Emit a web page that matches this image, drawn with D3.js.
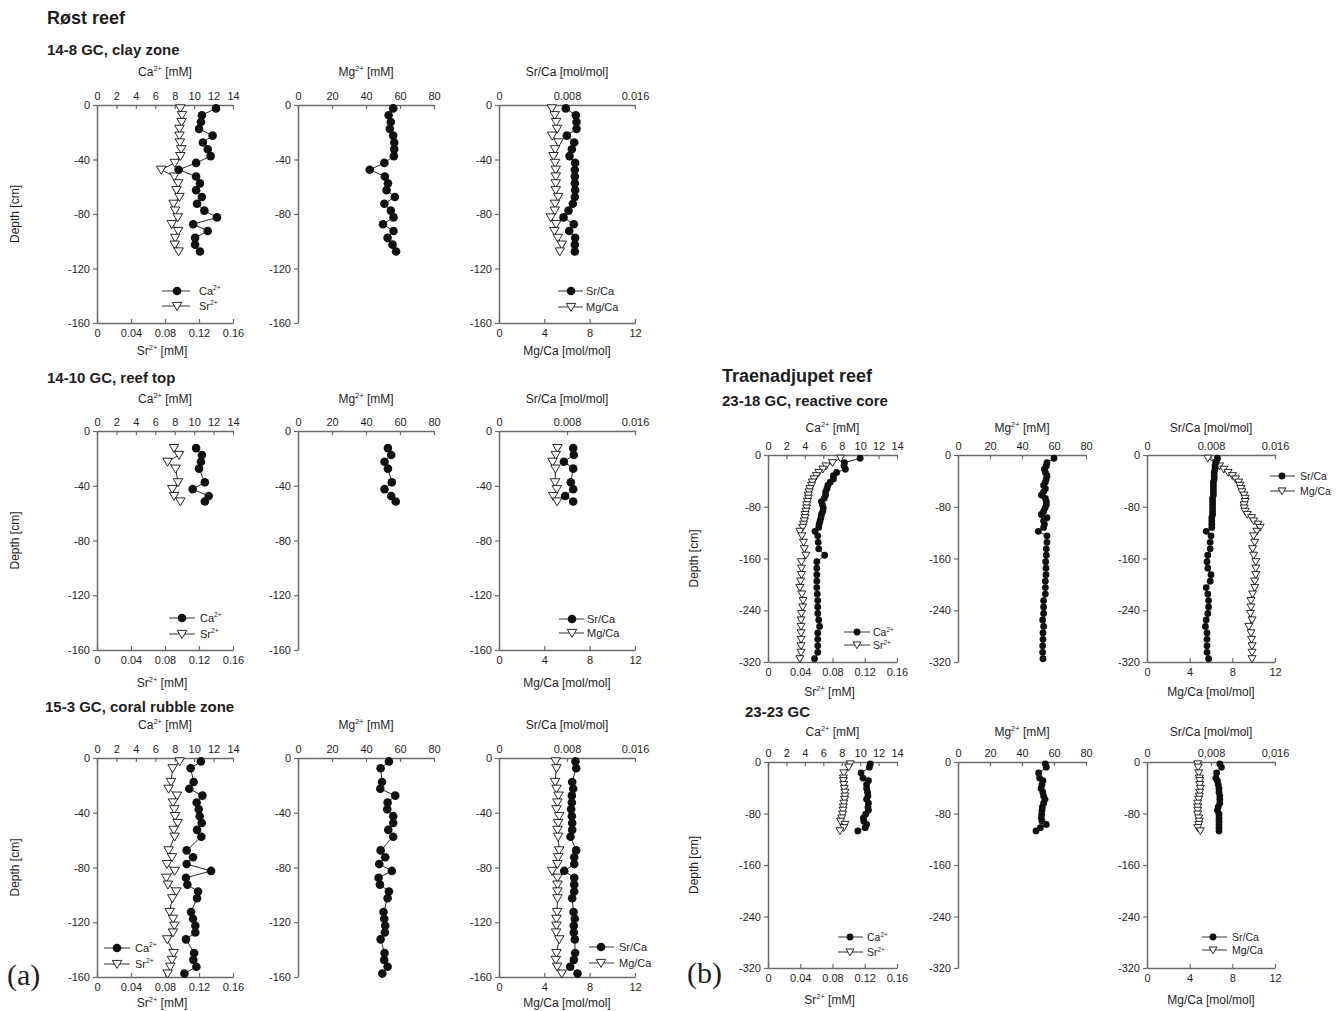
<!DOCTYPE html>
<html><head><meta charset="utf-8">
<script src="https://cdn.jsdelivr.net/npm/d3@7"></script>
<style>body{margin:0;background:#fff} svg{display:block} text{font-family:"Liberation Sans",Arial,sans-serif}</style>
</head><body><svg id="c" width="1343" height="1011"></svg>
<script>
// ---------- tick arrays ----------
const caTicks = [0,2,4,6,8,10,12,14];
const srTicks = [0,0.04,0.08,0.12,0.16];
const srLabels = ["0","0.04","0.08","0.12","0.16"];
const mgTicks = [0,20,40,60,80];
const srcaTicks = [0,0.008,0.016];
const srcaLabels = ["0","0.008","0.016"];
const srcaLabelsComma = ["0","0,008","0,016"];
const mgcaTicks = [0,4,8,12];
const depthTicksA = [0,-40,-80,-120,-160];
const depthTicksB = [0,-80,-160,-240,-320];

// ---------- 14-8 GC, clay zone ----------
const d148 = [-2.5,-7.5,-12.5,-17.5,-22.5,-27.5,-32.5,-37.5,-42.5,-47.5,-52.5,-57.5,-62.5,-67.5,-72.5,-77.5,-82.5,-87.5,-92.5,-97.5,-102.5,-107.5];
const ca148 = [12.25,10.8,10.7,10.5,11.9,10.9,11.4,11.7,10.2,8.4,10.2,10.6,10.2,10.8,10.3,11.05,12.35,9.9,11.4,10.1,10.1,10.6];
const sr148 = [0.098,0.100,0.0995,0.097,0.097,0.0975,0.099,0.098,0.0915,0.0755,0.091,0.0955,0.0935,0.097,0.090,0.092,0.095,0.088,0.0955,0.092,0.0915,0.096];
const mg148 = [56,53.3,54.6,54,56,56.6,56.6,56.4,50.8,42.2,51.1,52.9,52.1,57,50.8,54.6,56.2,50,56.2,52.7,55.6,57.7];
const srca148 = [0.00786,0.00904,0.00912,0.00912,0.00798,0.00885,0.00857,0.0083,0.00896,0.00892,0.00892,0.00892,0.00896,0.00892,0.00869,0.00818,0.00759,0.0088,0.00826,0.00896,0.00892,0.00892];
const mgca148 = [4.66,4.92,5.04,5.13,4.69,5.25,4.95,4.81,4.95,5.01,5.01,5.01,5.01,5.22,4.95,4.92,4.57,5.04,4.89,5.19,5.54,5.37];

// ---------- 14-10 GC, reef top ----------
const d1410 = [-12.5,-17.5,-22.5,-27.5,-37.5,-42.5,-47.5,-51.5];
const ca1410 = [10.2,10.8,10.7,10.5,11.1,9.85,11.5,11.1];
const sr1410 = [0.0906,0.0965,0.0831,0.0925,0.0953,0.0886,0.0906,0.098];
const mg1410 = [52.9,54.8,50.9,52.9,55.2,50.9,54.8,57.5];
const srca1410 = [0.00873,0.0088,0.00763,0.00873,0.00845,0.00873,0.00778,0.00873];
const mgca1410 = [5.16,5.01,4.72,4.98,4.95,5.10,4.78,5.13];

// ---------- 15-3 GC, coral rubble zone ----------
const d153 = [-2.5,-7.5,-17.5,-22.5,-27.5,-32.5,-37.5,-42.5,-47.5,-52.5,-57.5,-67.5,-72.5,-77.5,-82.5,-87.5,-92.5,-97.5,-102.5,-112.5,-117.5,-122.5,-127.5,-132.5,-142.5,-147.5,-152.5,-157.5];
const ca153 = [10.7,9.64,9.95,9.5,10.85,10.26,10.47,10.57,10.78,10.3,10.74,9.23,9.88,9.23,11.74,9.16,9.3,10.4,10.3,9.68,9.88,10.12,10.12,9.16,10.0,9.92,10.23,9.0];
const sr153 = [0.0973,0.089,0.0871,0.0843,0.0941,0.0894,0.091,0.0918,0.0949,0.0902,0.0914,0.0843,0.0882,0.0824,0.0914,0.0816,0.0835,0.0933,0.0886,0.0855,0.0894,0.091,0.0894,0.0827,0.0902,0.0882,0.0863,0.0831];
const mg153 = [53.5,48.6,49.4,48.4,57.2,52.7,52.5,56,56,53.1,56,48.6,51.3,47.8,55.2,47.4,48.2,53.5,52.7,50.3,50.7,51.3,51.1,48.6,50.9,50.7,52.7,49.6];
const srca153 = [0.009,0.00908,0.00861,0.00873,0.00857,0.00857,0.00849,0.00857,0.00861,0.00861,0.00841,0.00908,0.00885,0.00885,0.00767,0.00885,0.00885,0.00885,0.00861,0.00877,0.00892,0.0088,0.0088,0.00892,0.00896,0.0088,0.00837,0.00924];
const mgca153 = [5.01,5.07,4.95,5.07,5.25,5.16,5.07,5.31,5.22,5.16,5.22,5.31,5.22,5.16,4.69,5.16,5.16,5.16,5.16,5.13,5.07,5.07,5.04,5.31,5.07,5.01,5.13,5.54];

// ---------- 23-18 GC, reactive core ----------
const d2318 = [-5,-12,-17,-22,-27,-32,-37,-42,-47,-52,-57,-62,-67,-72,-77,-82,-87,-92,-97,-102,-107,-112,-118,-125,-135,-145,-155,-165,-175,-185,-195,-205,-215,-225,-235,-245,-255,-265,-275,-285,-295,-305,-315];
const ca2318 = [10.0,8.3,8.25,8.4,7.45,7.1,7.1,6.75,6.5,6.4,6.25,6.25,6.1,5.8,5.9,6.0,5.95,5.8,5.75,5.65,5.55,5.5,5.1,5.4,5.45,5.5,6.15,5.3,5.3,5.3,5.3,5.3,5.35,5.4,5.4,5.4,5.5,5.6,5.4,5.4,5.4,5.4,5.05];
const sr2318 = [0.090,0.080,0.072,0.068,0.063,0.060,0.057,0.055,0.054,0.052,0.051,0.050,0.050,0.049,0.048,0.048,0.047,0.046,0.046,0.045,0.044,0.043,0.0395,0.042,0.044,0.045,0.047,0.0415,0.0415,0.0415,0.0405,0.0395,0.042,0.0435,0.043,0.0415,0.041,0.041,0.041,0.041,0.041,0.041,0.0395];
const mg2318 = [60,55.6,55.2,54,54.6,55.6,55.2,54.6,53.5,54.6,53.5,52.1,54.6,55.2,55.2,54.4,53.5,52.1,55.6,53.5,54,53.5,50.2,55.6,55.6,55.2,55.2,54.8,55,55,54.6,54.6,54.6,53.5,53.5,53.5,52.9,53.5,53.1,53.1,52.9,52.9,53.1];
const srca2318 = [0.0088,0.0086,0.0085,0.0085,0.0084,0.0084,0.0084,0.0083,0.0083,0.0083,0.0083,0.0083,0.0082,0.0082,0.0082,0.0082,0.0082,0.0082,0.0081,0.0081,0.0081,0.0081,0.0074,0.0080,0.0079,0.0079,0.0076,0.0075,0.0076,0.0080,0.0079,0.0074,0.0076,0.0077,0.0077,0.0076,0.0074,0.0073,0.0075,0.0075,0.0075,0.0075,0.0077];
const mgca2318 = [5.7,6.5,6.8,7.2,7.6,8.0,8.3,8.6,8.7,8.8,8.9,9.1,9.2,9.2,9.1,9.1,9.2,9.4,9.8,10.0,10.4,10.6,10.3,10.0,10.1,9.9,10.0,10.2,10.2,10.2,10.1,10.1,9.9,9.75,9.75,9.7,9.85,9.55,9.75,9.8,9.85,9.85,9.85];

// ---------- 23-23 GC ----------
const d2323 = [-3,-8,-17,-25,-29,-35,-41,-47,-53,-58,-64,-70,-75,-81,-87,-92,-97,-102,-107];
const ca2323 = [11.1,11.0,10.1,10.3,10.9,10.7,10.7,10.8,10.85,10.7,10.9,10.85,10.9,10.6,10.35,10.4,10.7,10.55,9.75];
const sr2323 = [0.102,0.100,0.094,0.0935,0.0935,0.094,0.0945,0.0955,0.0955,0.095,0.094,0.0935,0.093,0.0925,0.0915,0.090,0.0955,0.094,0.0893];
const mg2323 = [54.6,55.2,50.4,51,53.1,52.5,51.9,53,53.5,54.4,53.5,52.7,52.5,52.3,52.1,52.5,55.2,51.5,48.75];
const srca2323 = [0.0091,0.0093,0.0087,0.0086,0.0088,0.0089,0.0090,0.0090,0.0091,0.0091,0.0091,0.0089,0.0088,0.0090,0.0090,0.0090,0.0090,0.0090,0.0090];
const mgca2323 = [4.75,4.8,4.85,4.9,4.94,4.94,5.0,4.94,4.9,4.84,4.75,4.75,4.75,4.75,4.84,4.9,4.85,4.75,5.0];

// ---------- drawing ----------
const svg = d3.select('#c');
const AX = '#6a6a6a', TXT = '#1e1e1e', INK = '#111';

function richText(g, x, y, parts, size, anchor) {
  const t = g.append('text').attr('x', x).attr('y', y).attr('font-size', size)
    .attr('text-anchor', anchor || 'middle').attr('fill', TXT);
  let up = false;
  parts.forEach(p => {
    const ts = t.append('tspan').text(p[0]);
    if (p[1] === 'sup') { ts.attr('font-size', size * 0.62).attr('dy', -size * 0.42); up = true; }
    else if (up) { ts.attr('dy', size * 0.42); up = false; }
  });
  return t;
}

function marker(g, type, x, y, s) {
  if (type === 'circle') {
    g.append('circle').attr('cx', x).attr('cy', y).attr('r', s.r).attr('fill', INK);
  } else {
    const w = s.tw, h = s.th;
    g.append('path').attr('d', `M${x - w/2},${y - h*0.45}L${x + w/2},${y - h*0.45}L${x},${y + h*0.55}Z`)
      .attr('fill', '#fff').attr('stroke', INK).attr('stroke-width', 0.9);
  }
}

function styleAxis(sel) {
  sel.select('.domain').attr('stroke', AX).attr('stroke-width', 1.5);
  sel.selectAll('.tick line').attr('stroke', AX).attr('stroke-width', 1.2);
  sel.selectAll('.tick text').attr('fill', TXT).attr('font-size', 11)
     .style('font-family', '"Liberation Sans",Arial,sans-serif');
}

const CA = [['Ca',''],['2+','sup'],[' [mM]','']];
const SR = [['Sr',''],['2+','sup'],[' [mM]','']];
const MG = [['Mg',''],['2+','sup'],[' [mM]','']];
const SRCA = [['Sr/Ca [mol/mol]','']];
const MGCA = [['Mg/Ca [mol/mol]','']];

function panel(o) {
  const g = svg.append('g');
  const y = d3.scaleLinear().domain([0, o.dmin]).range([o.y0, o.y1]);
  const xt = d3.scaleLinear().domain(o.topDomain).range([o.x0, o.x1]);
  const xb = o.botDomain ? d3.scaleLinear().domain(o.botDomain).range([o.x0, o.x1]) : null;

  const la = g.append('g').attr('transform', `translate(${o.x0},0)`)
    .call(d3.axisLeft(y).tickValues(o.dTicks).tickFormat(d => String(d)).tickSize(4).tickSizeOuter(0).tickPadding(3));
  styleAxis(la);
  const ta = g.append('g').attr('transform', `translate(0,${o.y0})`)
    .call(d3.axisTop(xt).tickValues(o.topTicks).tickFormat((d, i) => o.topLabels[i]).tickSize(-4).tickSizeOuter(0).tickPadding(5));
  styleAxis(ta);
  richText(g, (o.x0 + o.x1) / 2, o.y0 - o.topTitleOff, o.topTitle, 12);
  if (xb) {
    const ba = g.append('g').attr('transform', `translate(0,${o.y1})`)
      .call(d3.axisBottom(xb).tickValues(o.botTicks).tickFormat((d, i) => o.botLabels[i]).tickSize(-4).tickSizeOuter(0).tickPadding(6));
    styleAxis(ba);
    richText(g, (o.x0 + o.x1) / 2 + (o.botTitleDx || 0), o.y1 + o.botTitleOff, o.botTitle, 12);
  }
  o.series.forEach(s => {
    const sx = s.axis === 'top' ? xt : xb;
    const pts = s.vals.map((v, i) => [sx(v), y(s.depth[i])]);
    g.append('path').attr('d', d3.line()(pts)).attr('fill', 'none').attr('stroke', INK).attr('stroke-width', 0.9);
  });
  o.series.slice().reverse().forEach(s => {
    const sx = s.axis === 'top' ? xt : xb;
    s.vals.forEach((v, i) => marker(g, s.type, sx(v), y(s.depth[i]), o.ms));
  });
  if (o.legend) {
    const L = o.legend;
    L.items.forEach((it, k) => {
      const yy = L.ys[k];
      g.append('line').attr('x1', L.lx0).attr('x2', L.lx1).attr('y1', yy).attr('y2', yy).attr('stroke', '#333').attr('stroke-width', 1);
      marker(g, it.type, L.mx, yy, o.ms);
      richText(g, L.tx, yy + 4, it.label, L.fs, 'start');
    });
  }
  if (o.depthLabel) {
    g.append('text').attr('transform', `translate(${o.depthLabel},${(o.y0 + o.y1) / 2}) rotate(-90)`)
      .attr('text-anchor', 'middle').attr('dy', '0.35em').attr('font-size', 12).attr('fill', TXT).text('Depth [cm]');
  }
}

const msA = {r: 4.3, tw: 9.5, th: 8};
const msB = {r: 3.4, tw: 8, th: 6.8};

function row(cfg) {
  const common = {y0: cfg.y0, y1: cfg.y1, dmin: cfg.dmin, dTicks: cfg.dTicks, ms: cfg.ms, topTitleOff: cfg.tto, botTitleOff: cfg.bto};
  panel(Object.assign({}, common, {
    x0: cfg.cols[0][0], x1: cfg.cols[0][1],
    topDomain: [0, 14], topTicks: caTicks, topLabels: caTicks.map(String), topTitle: CA,
    botDomain: [0, 0.16], botTicks: srTicks, botLabels: srLabels, botTitle: SR, botTitleDx: -3,
    series: [{axis: 'top', type: 'circle', vals: cfg.ca, depth: cfg.d}, {axis: 'bottom', type: 'tri', vals: cfg.sr, depth: cfg.d}],
    legend: {lx0: cfg.lg1[0], lx1: cfg.lg1[1], mx: cfg.lg1[2], tx: cfg.lg1[3], ys: [cfg.lg1[4], cfg.lg1[5]], fs: cfg.lfs,
      items: [{type: 'circle', label: [['Ca',''],['2+','sup']]}, {type: 'tri', label: [['Sr',''],['2+','sup']]}]},
    depthLabel: cfg.depthX
  }));
  panel(Object.assign({}, common, {
    x0: cfg.cols[1][0], x1: cfg.cols[1][1],
    topDomain: [0, 80], topTicks: mgTicks, topLabels: mgTicks.map(String), topTitle: MG,
    series: [{axis: 'top', type: 'circle', vals: cfg.mg, depth: cfg.d}]
  }));
  panel(Object.assign({}, common, {
    x0: cfg.cols[2][0], x1: cfg.cols[2][1],
    topDomain: [0, 0.016], topTicks: srcaTicks, topLabels: cfg.srcaLab, topTitle: SRCA,
    botDomain: [0, 12], botTicks: mgcaTicks, botLabels: mgcaTicks.map(String), botTitle: MGCA,
    series: [{axis: 'top', type: 'circle', vals: cfg.srca, depth: cfg.d}, {axis: 'bottom', type: 'tri', vals: cfg.mgca, depth: cfg.d}],
    legend: {lx0: cfg.lg2[0], lx1: cfg.lg2[1], mx: cfg.lg2[2], tx: cfg.lg2[3], ys: [cfg.lg2[4], cfg.lg2[5]], fs: cfg.lfs,
      items: [{type: 'circle', label: [['Sr/Ca','']]}, {type: 'tri', label: [['Mg/Ca','']]}]}
  }));
}

const colsA = [[97, 233], [298, 434], [499, 635]];
const colsB = [[768, 897], [958, 1086], [1147, 1275]];

row({y0: 105, y1: 323, dmin: -160, dTicks: depthTicksA, ms: msA, tto: 29, bto: 32, cols: colsA,
  d: d148, ca: ca148, sr: sr148, mg: mg148, srca: srca148, mgca: mgca148, srcaLab: srcaLabels,
  lg1: [162, 190, 177, 199, 291, 306], lg2: [558, 583, 571, 586, 291, 307], lfs: 11, depthX: 15});
row({y0: 431, y1: 650, dmin: -160, dTicks: depthTicksA, ms: msA, tto: 28, bto: 37, cols: colsA,
  d: d1410, ca: ca1410, sr: sr1410, mg: mg1410, srca: srca1410, mgca: mgca1410, srcaLab: srcaLabels,
  lg1: [169, 195, 182, 200, 618, 634], lg2: [559, 584, 572, 587, 619, 633], lfs: 11, depthX: 15});
row({y0: 758, y1: 977, dmin: -160, dTicks: depthTicksA, ms: msA, tto: 29, bto: 30, cols: colsA,
  d: d153, ca: ca153, sr: sr153, mg: mg153, srca: srca153, mgca: mgca153, srcaLab: srcaLabels,
  lg1: [104, 130, 117, 135, 948, 964], lg2: [589, 614, 601, 619, 947, 963], lfs: 11, depthX: 15});
row({y0: 455, y1: 662, dmin: -320, dTicks: depthTicksB, ms: msB, tto: 23, bto: 34, cols: colsB,
  d: d2318, ca: ca2318, sr: sr2318, mg: mg2318, srca: srca2318, mgca: mgca2318, srcaLab: srcaLabels,
  lg1: [844, 870, 857, 873, 632, 645], lg2: [1270, 1295, 1282, 1300, 476, 491], lfs: 10.5, depthX: 694});
row({y0: 762, y1: 968, dmin: -320, dTicks: depthTicksB, ms: msB, tto: 26, bto: 36, cols: colsB,
  d: d2323, ca: ca2323, sr: sr2323, mg: mg2323, srca: srca2323, mgca: mgca2323, srcaLab: srcaLabelsComma,
  lg1: [838, 863, 850, 867, 937, 952], lg2: [1202, 1227, 1213, 1232, 937, 950], lfs: 10.5, depthX: 694});

function title(x, y, txt, size) {
  svg.append('text').attr('x', x).attr('y', y).attr('font-size', size).attr('font-weight', 'bold').attr('fill', TXT).text(txt);
}
title(47, 24, 'Røst reef', 18);
title(47, 55, '14-8 GC, clay zone', 15);
title(47, 383, '14-10 GC, reef top', 15);
title(45, 712, '15-3 GC, coral rubble zone', 15);
title(722, 382, 'Traenadjupet reef', 18);
title(722, 406, '23-18 GC, reactive core', 15);
title(745, 717, '23-23 GC', 15);

svg.append('text').attr('x', 7).attr('y', 985).attr('font-size', 30).style('font-family', '"Liberation Serif","Times New Roman",serif').attr('fill', TXT).text('(a)');
svg.append('text').attr('x', 687).attr('y', 983).attr('font-size', 30).style('font-family', '"Liberation Serif","Times New Roman",serif').attr('fill', TXT).text('(b)');
</script></body></html>
